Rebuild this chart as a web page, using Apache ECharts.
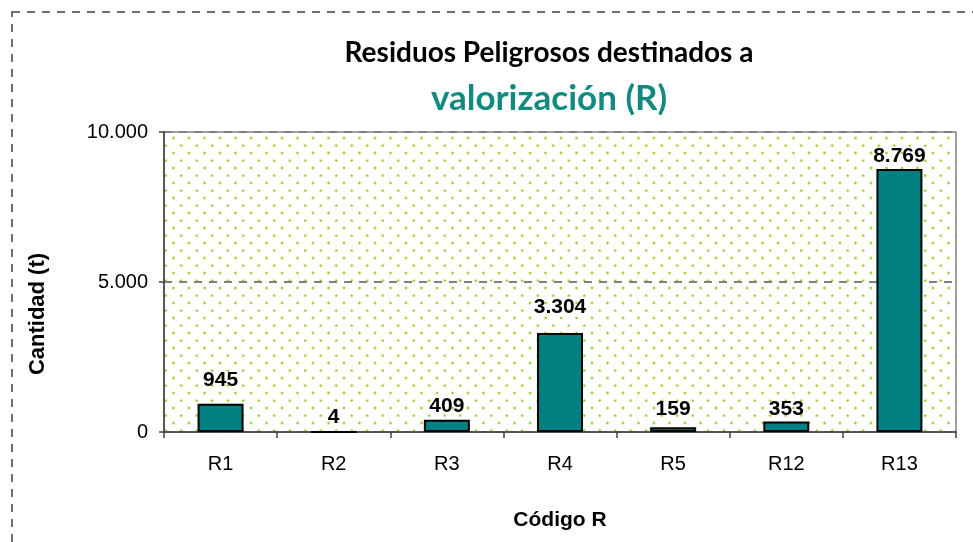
<!DOCTYPE html>
<html>
<head>
<meta charset="utf-8">
<script src="https://cdn.jsdelivr.net/npm/echarts@6/dist/echarts.min.js"></script>
<style>
html,body{margin:0;padding:0;background:#fff;}
#c{width:973px;height:542px;}
</style>
</head>
<body>
<div id="c"></div>
<script>
var categories = ['R1', 'R2', 'R3', 'R4', 'R5', 'R12', 'R13'];
var values = [945, 4, 409, 3304, 159, 353, 8769];
var yTicks = [0, 5000, 10000];

function fmt(v) {
  return String(v).replace(/\B(?=(\d{3})+(?!\d))/g, '.');
}

// dotted background pattern
var tile = document.createElement('canvas');
tile.width = 31; tile.height = 30;
var tc = tile.getContext('2d');
function dot(x, y) {
  tc.fillStyle = 'rgba(170,215,70,0.55)';
  tc.beginPath(); tc.arc(x, y, 1.7, 0, Math.PI * 2); tc.fill();
  tc.fillStyle = '#8fcc1e';
  tc.beginPath(); tc.arc(x, y, 0.9, 0, Math.PI * 2); tc.fill();
}
dot(3, 3); dot(18.5, 3); dot(10.75, 10.6); dot(26.25, 10.6);
dot(3, 18); dot(18.5, 18); dot(10.75, 25.6); dot(26.25, 25.6);

var labelGap = [13, 3, 3, 15, 8, 2, 2];

var chart = echarts.init(document.getElementById('c'), null, {renderer: 'canvas'});
chart.setOption({
  animation: false,
  backgroundColor: '#ffffff',
  title: {
    left: 544,
    top: 25,
    textAlign: 'center',
    text: '{a|Residuos Peligrosos destinados a}\n{b|valorización (R)}',
    textStyle: {
      rich: {
        a: {fontFamily: 'Lato', fontWeight: 'bold', fontSize: 28, color: '#000', lineHeight: 46},
        b: {fontFamily: 'Lato', fontWeight: 'bold', fontSize: 35, color: '#138a80', lineHeight: 46}
      }
    }
  },
  grid: {
    left: 164, right: 17, top: 132, bottom: 110,
    show: true,
    borderColor: '#808080',
    borderWidth: 1.5,
    backgroundColor: {image: tile, repeat: 'repeat'}
  },
  xAxis: {
    type: 'category',
    data: categories,
    name: 'Código R',
    nameLocation: 'middle',
    nameGap: 78,
    nameTextStyle: {fontFamily: 'Liberation Sans, Arial', fontWeight: 'bold', fontSize: 21, color: '#000'},
    axisLine: {lineStyle: {color: '#404040', width: 1.5}},
    axisTick: {show: true, alignWithLabel: false, length: 6, lineStyle: {color: '#404040', width: 1.5}},
    axisLabel: {fontFamily: 'Liberation Sans, Arial', fontSize: 20, color: '#000', margin: 22},
    splitLine: {show: false}
  },
  yAxis: {
    type: 'value',
    min: yTicks[0],
    max: yTicks[yTicks.length - 1],
    interval: yTicks[1] - yTicks[0],
    axisLine: {show: true, lineStyle: {color: '#404040', width: 1.5}},
    axisTick: {show: true, length: 5, lineStyle: {color: '#404040', width: 1.5}},
    axisLabel: {fontFamily: 'Liberation Sans, Arial', fontSize: 20, color: '#000', margin: 16,
      formatter: function (v) { return fmt(v); }},
    splitLine: {show: true, lineStyle: {color: '#808080', width: 2, type: [8, 7]}}
  },
  series: [{
    type: 'bar',
    barWidth: 46,
    data: values.map(function (v, i) {
      return {value: v, label: {distance: labelGap[i]}};
    }),
    itemStyle: {color: '#008080', borderColor: '#000', borderWidth: 2},
    label: {
      show: true,
      position: 'top',
      fontFamily: 'Liberation Sans, Arial',
      fontWeight: 'bold',
      fontSize: 21,
      color: '#000',
      formatter: function (p) { return fmt(p.value); }
    }
  }],
  graphic: [
    {
      type: 'rect',
      shape: {x: 12, y: 12, width: 1000, height: 600},
      style: {fill: null, stroke: '#404040', lineWidth: 1.5, lineDash: [8, 7]},
      silent: true
    },
    {
      type: 'text',
      x: 38, y: 314,
      rotation: Math.PI / 2,
      style: {
        text: 'Cantidad (t)',
        fontFamily: 'Liberation Sans, Arial',
        fontWeight: 'bold',
        fontSize: 22,
        fill: '#000',
        align: 'center',
        verticalAlign: 'middle'
      }
    }
  ]
});
</script>
</body>
</html>
